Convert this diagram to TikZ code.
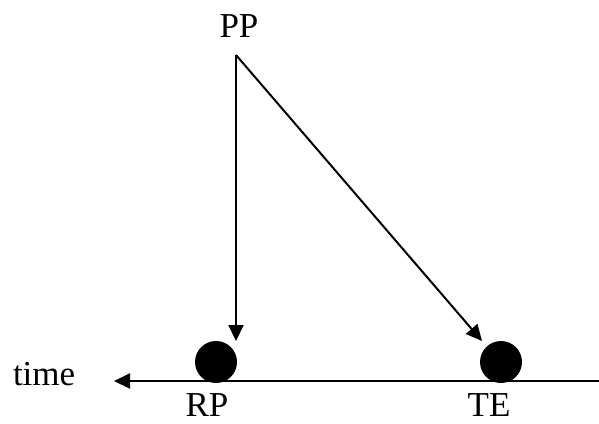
\documentclass[tikz,border=0pt]{standalone}
\usepackage{fontspec}
\setmainfont{Liberation Serif}
\usepackage{tikz}
\usetikzlibrary{arrows.meta,positioning}

\begin{document}
\begin{tikzpicture}[x=0.5pt,y=-0.5pt,line width=1pt,
    >={Triangle[length=8pt,width=7.5pt]},
    dot/.style={circle,fill=black,inner sep=0pt,minimum size=21pt},
    lbl/.style={anchor=base,inner sep=0pt,font=\fontsize{17.5}{21}\selectfont}]
\useasboundingbox (0,0) rectangle (599,423);
% event points on the time line
\node[dot] (rp) at (216,362) {};
\node[dot] (te) at (501,362) {};
\coordinate (pp) at (236,55);
\coordinate (rptip) at (236,341);
\coordinate (tetip) at (482,341);
\coordinate (tstart) at (599,381);
\coordinate (tend) at (114,381);
\draw[->] (pp) -- (rptip);
\draw[->] (pp) -- (tetip);
\draw[->] (tstart) -- (tend);
% labels
\node[lbl] (pplabel) at (239,37) {PP};
\node[lbl] (rplabel) at (207,416) {RP};
\node[lbl] (telabel) at (489,416) {TE};
\node[lbl,anchor=base west] (timelabel) at (12,385) {time};
\end{tikzpicture}
\end{document}
